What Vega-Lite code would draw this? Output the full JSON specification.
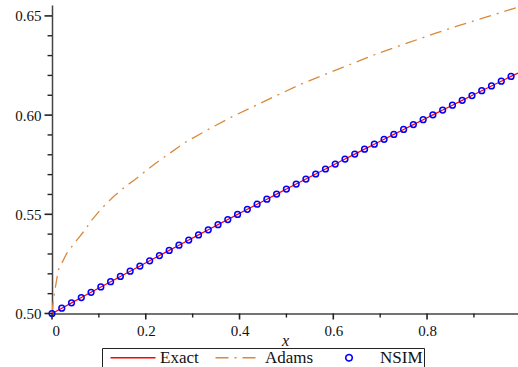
{
  "$schema": "https://vega.github.io/schema/vega-lite/v6.json",
  "width": 466,
  "height": 308.5,
  "autosize": "none",
  "padding": {"left": 52, "top": 5, "right": 0, "bottom": 53.5},
  "background": "white",
  "config": {
    "view": {"stroke": null},
    "font": "Liberation Serif",
    "axis": {
      "grid": false,
      "ticks": false,
      "domainColor": "#444444",
      "domainWidth": 1.5,
      "labelFont": "Liberation Serif",
      "labelFontSize": 15,
      "labelColor": "#111111",
      "labelOverlap": false,
      "titleFont": "Liberation Serif",
      "titleColor": "#111111"
    }
  },
  "datasets": {
    "exact": [
      {"x": 0.0, "y": 0.5}, {"x": 0.020833, "y": 0.502684}, {"x": 0.041667, "y": 0.505363}, {"x": 0.0625, "y": 0.508035},
      {"x": 0.083333, "y": 0.510701}, {"x": 0.104167, "y": 0.51336}, {"x": 0.125, "y": 0.516014}, {"x": 0.145833, "y": 0.518662},
      {"x": 0.166667, "y": 0.521303}, {"x": 0.1875, "y": 0.523938}, {"x": 0.208333, "y": 0.526567}, {"x": 0.229167, "y": 0.52919},
      {"x": 0.25, "y": 0.531806}, {"x": 0.270833, "y": 0.534417}, {"x": 0.291667, "y": 0.537021}, {"x": 0.3125, "y": 0.539619},
      {"x": 0.333333, "y": 0.542211}, {"x": 0.354167, "y": 0.544797}, {"x": 0.375, "y": 0.547377}, {"x": 0.395833, "y": 0.54995},
      {"x": 0.416667, "y": 0.552517}, {"x": 0.4375, "y": 0.555079}, {"x": 0.458333, "y": 0.557633}, {"x": 0.479167, "y": 0.560183},
      {"x": 0.5, "y": 0.562725}, {"x": 0.520833, "y": 0.565262}, {"x": 0.541667, "y": 0.567792}, {"x": 0.5625, "y": 0.570316},
      {"x": 0.583333, "y": 0.572834}, {"x": 0.604167, "y": 0.575346}, {"x": 0.625, "y": 0.577852}, {"x": 0.645833, "y": 0.580351},
      {"x": 0.666667, "y": 0.582844}, {"x": 0.6875, "y": 0.585332}, {"x": 0.708333, "y": 0.587813}, {"x": 0.729167, "y": 0.590288},
      {"x": 0.75, "y": 0.592756}, {"x": 0.770833, "y": 0.595219}, {"x": 0.791667, "y": 0.597675}, {"x": 0.8125, "y": 0.600126},
      {"x": 0.833333, "y": 0.602569}, {"x": 0.854167, "y": 0.605008}, {"x": 0.875, "y": 0.607439}, {"x": 0.895833, "y": 0.609865},
      {"x": 0.916667, "y": 0.612284}, {"x": 0.9375, "y": 0.614697}, {"x": 0.958333, "y": 0.617104}, {"x": 0.979167, "y": 0.619505},
      {"x": 0.994, "y": 0.621211}
    ],
    "adams": [
      {"x": 0.0, "y": 0.5}, {"x": 0.0028, "y": 0.5068}, {"x": 0.0134, "y": 0.5219}, {"x": 0.0314, "y": 0.5303},
      {"x": 0.0476, "y": 0.5354}, {"x": 0.0704, "y": 0.5421}, {"x": 0.0847, "y": 0.5471}, {"x": 0.106, "y": 0.553},
      {"x": 0.1308, "y": 0.5588}, {"x": 0.1557, "y": 0.5639}, {"x": 0.1771, "y": 0.5675}, {"x": 0.1984, "y": 0.5716},
      {"x": 0.2197, "y": 0.5755}, {"x": 0.2411, "y": 0.5791}, {"x": 0.2837, "y": 0.5862}, {"x": 0.3334, "y": 0.5928},
      {"x": 0.3834, "y": 0.5991}, {"x": 0.4367, "y": 0.6051}, {"x": 0.4864, "y": 0.6107}, {"x": 0.5361, "y": 0.6161},
      {"x": 0.5931, "y": 0.6215}, {"x": 0.6214, "y": 0.6242}, {"x": 0.6641, "y": 0.6282}, {"x": 0.7034, "y": 0.6318},
      {"x": 0.7601, "y": 0.6365}, {"x": 0.8171, "y": 0.6412}, {"x": 0.8704, "y": 0.6453}, {"x": 0.9274, "y": 0.6495},
      {"x": 0.9841, "y": 0.6537}, {"x": 0.994, "y": 0.6544}
    ],
    "yMajor": [{"v": 0.5}, {"v": 0.55}, {"v": 0.6}, {"v": 0.65}],
    "yMinor": [{"v": 0.51}, {"v": 0.52}, {"v": 0.53}, {"v": 0.54}, {"v": 0.56}, {"v": 0.57}, {"v": 0.58}, {"v": 0.59}, {"v": 0.61}, {"v": 0.62}, {"v": 0.63}, {"v": 0.64}],
    "xMajor": [{"v": 0}, {"v": 0.2}, {"v": 0.4}, {"v": 0.6}, {"v": 0.8}],
    "xMinor": [{"v": 0.1}, {"v": 0.3}, {"v": 0.5}, {"v": 0.7}, {"v": 0.9}]
  },
  "layer": [
    {
      "data": {"name": "adams"},
      "transform": [{"calculate": "'Adams'", "as": "s"}],
      "mark": {"type": "line", "strokeWidth": 1.3, "strokeDash": [12, 6, 2, 6], "clip": true},
      "encoding": {
        "x": {"field": "x", "type": "quantitative",
          "scale": {"domain": [0, 0.994], "nice": false, "zero": false},
          "axis": {
            "orient": "bottom",
            "values": [0, 0.2, 0.4, 0.6, 0.8],
            "labelExpr": "datum.value === 0 ? '0' : format(datum.value, '.1f')",
            "labelPadding": 10,
            "title": "x",
            "titleFontStyle": "italic",
            "titleFontWeight": "normal",
            "titleFontSize": 16,
            "titleBaseline": "alphabetic",
            "titleY": 32
          }
        },
        "y": {"field": "y", "type": "quantitative",
          "scale": {"domain": [0.5, 0.6555], "nice": false, "zero": false},
          "axis": {
            "orient": "left",
            "values": [0.5, 0.55, 0.6, 0.65],
            "format": ".2f",
            "labelPadding": 11,
            "title": null
          }
        },
        "stroke": {"field": "s", "type": "nominal",
          "scale": {"domain": ["Exact", "Adams", "NSIM"], "range": ["#ff0000", "#d98a3a", "#0000ff"]},
          "legend": {
            "orient": "none",
            "legendX": 50,
            "legendY": 343,
            "direction": "horizontal",
            "title": null,
            "strokeColor": "#222222",
            "fillColor": "white",
            "padding": 1,
            "labelFont": "Liberation Serif",
            "labelFontSize": 17,
            "labelColor": "#111111",
            "labelOffset": 36,
            "columnPadding": 9,
            "symbolSize": 100,
            "symbolOffset": 4,
            "symbolStrokeWidth": 1.3,
            "symbolType": "M-1,0H8",
            "encode": {
              "symbols": {
                "update": {
                  "shape": {"signal": "datum.value === 'NSIM' ? 'M-1,0M8,0M3.35,0A0.65,0.65 0 1,1 2.05,0A0.65,0.65 0 1,1 3.35,0Z' : 'M-1,0H8'"},
                  "strokeDash": {"signal": "datum.value === 'Adams' ? [13, 6, 2, 6] : [1, 0]"},
                  "strokeWidth": {"signal": "datum.value === 'NSIM' ? 1.6 : 1.3"},
                  "fill": {"value": "transparent"}
                }
              }
            }
          }
        }
      }
    },
    {
      "data": {"name": "exact"},
      "transform": [{"calculate": "'Exact'", "as": "s"}],
      "mark": {"type": "line", "strokeWidth": 1.2},
      "encoding": {
        "x": {"field": "x", "type": "quantitative"},
        "y": {"field": "y", "type": "quantitative"},
        "stroke": {"field": "s", "type": "nominal"}
      }
    },
    {
      "data": {"name": "exact"},
      "transform": [{"filter": "datum.x < 0.99"}, {"calculate": "'NSIM'", "as": "s"}],
      "mark": {"type": "point", "shape": "circle", "filled": false, "size": 33, "strokeWidth": 1.5, "opacity": 1},
      "encoding": {
        "x": {"field": "x", "type": "quantitative"},
        "y": {"field": "y", "type": "quantitative"},
        "stroke": {"field": "s", "type": "nominal"}
      }
    },
    {
      "data": {"name": "yMajor"},
      "mark": {"type": "rule", "color": "#222222", "strokeWidth": 1.6, "clip": false},
      "encoding": {
        "y": {"field": "v", "type": "quantitative"},
        "x": {"datum": -0.016},
        "x2": {"datum": 0}
      }
    },
    {
      "data": {"name": "yMinor"},
      "mark": {"type": "rule", "color": "#222222", "strokeWidth": 1.4, "clip": false},
      "encoding": {
        "y": {"field": "v", "type": "quantitative"},
        "x": {"datum": -0.0095},
        "x2": {"datum": 0}
      }
    },
    {
      "data": {"name": "xMajor"},
      "mark": {"type": "rule", "color": "#222222", "strokeWidth": 1.6, "clip": false},
      "encoding": {
        "x": {"field": "v", "type": "quantitative"},
        "y": {"datum": 0.49698},
        "y2": {"datum": 0.5}
      }
    },
    {
      "data": {"name": "xMinor"},
      "mark": {"type": "rule", "color": "#222222", "strokeWidth": 1.4, "clip": false},
      "encoding": {
        "x": {"field": "v", "type": "quantitative"},
        "y": {"datum": 0.49798},
        "y2": {"datum": 0.5}
      }
    }
  ]
}
